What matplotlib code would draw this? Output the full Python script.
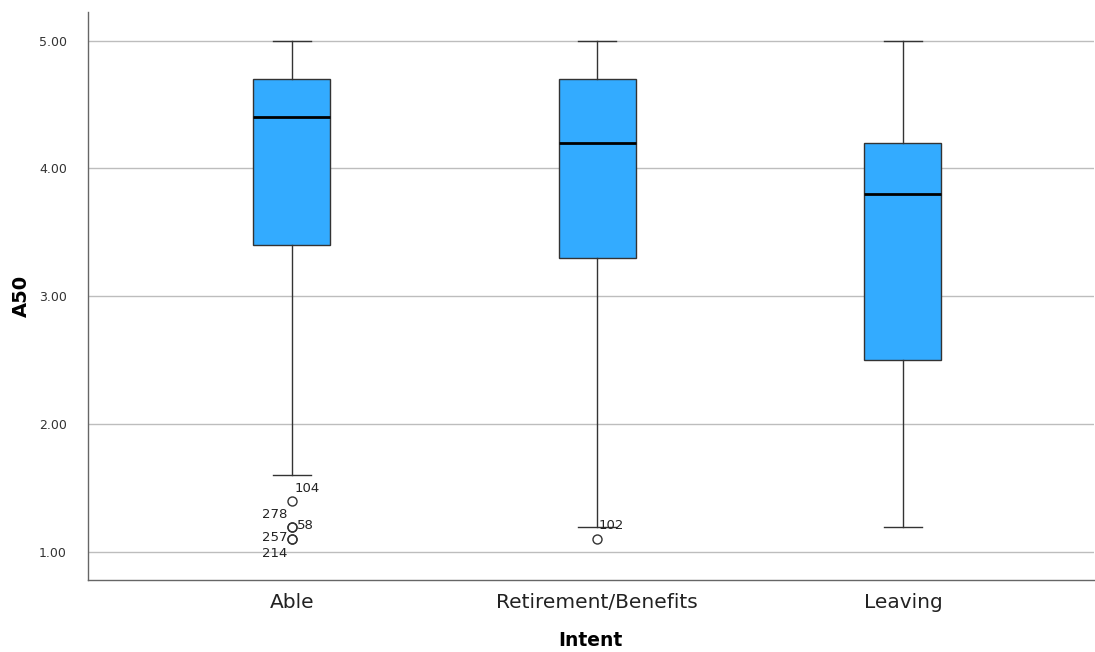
import numpy as np
import matplotlib.pyplot as plt

# box summary for A50 by intent group
groups = ['Able', 'Retirement/Benefits', 'Leaving']
whislo = [1.6, 1.2, 1.2]
q1 = [3.4, 3.3, 2.5]
med = [4.4, 4.2, 3.8]
q3 = [4.7, 4.7, 4.2]
whishi = [5.0, 5.0, 5.0]

# outlier cases: group index, value, case id
out_group = [0, 0, 0, 0, 0, 1]
out_value = [1.4, 1.2, 1.1, 1.1, 1.2, 1.1]
out_case = ['104', '278', '257', '214', '58', '102']
# label offsets in points (dx, dy) and alignment per case
out_offset = [(2, 9), (-3, 9), (-3, 1), (-3, -10), (4, 1), (1, 10)]
out_ha = ['left', 'right', 'right', 'right', 'left', 'left']

box_color = '#33abff'

stats = []
for i in range(len(groups)):
    fl = [v for g, v in zip(out_group, out_value) if g == i]
    stats.append(dict(med=med[i], q1=q1[i], q3=q3[i], whislo=whislo[i],
                      whishi=whishi[i], fliers=fl, label=groups[i]))

fig, ax = plt.subplots(figsize=(10.95, 6.52), dpi=100)
fig.subplots_adjust(left=0.080, right=0.999, top=0.982, bottom=0.110)

ax.bxp(stats, positions=range(len(groups)), widths=0.252, patch_artist=True,
       boxprops=dict(facecolor=box_color, edgecolor='#333333', linewidth=1.0),
       medianprops=dict(color='black', linewidth=2.0),
       whiskerprops=dict(color='#333333', linewidth=1.0),
       capprops=dict(color='#333333', linewidth=1.0),
       capwidths=0.125,
       flierprops=dict(marker='o', markersize=6.5, markerfacecolor='none',
                       markeredgecolor='#333333', markeredgewidth=1.0),
       zorder=3)

for g, v, c, off, ha in zip(out_group, out_value, out_case, out_offset, out_ha):
    ax.annotate(c, xy=(g, v), xytext=off, textcoords='offset points',
                ha=ha, va='center', fontsize=9.5, color='#222222', zorder=4)

ax.set_xlim(-0.668, 2.625)
ax.set_ylim(0.78, 5.225)
ax.set_yticks([1, 2, 3, 4, 5])
ax.set_yticklabels([f'{t:.2f}' for t in [1, 2, 3, 4, 5]], fontsize=9, color='#333333')
ax.set_xticks(range(len(groups)))
ax.set_xticklabels(groups, fontsize=14.5, color='#222222')
ax.tick_params(axis='both', length=0)
ax.tick_params(axis='x', pad=9)
ax.tick_params(axis='y', pad=15)

ax.yaxis.grid(True, color='#bdbdbd', linewidth=1.0, zorder=0)
ax.set_axisbelow(True)
for s in ['top', 'right']:
    ax.spines[s].set_visible(False)
for s in ['left', 'bottom']:
    ax.spines[s].set_color('#666666')
    ax.spines[s].set_linewidth(1.0)

ax.set_xlabel('Intent', fontsize=13.5, fontweight='bold', labelpad=14)
ax.set_ylabel('A50', fontsize=14, fontweight='bold', labelpad=6)

plt.savefig('out.png', dpi=100)
